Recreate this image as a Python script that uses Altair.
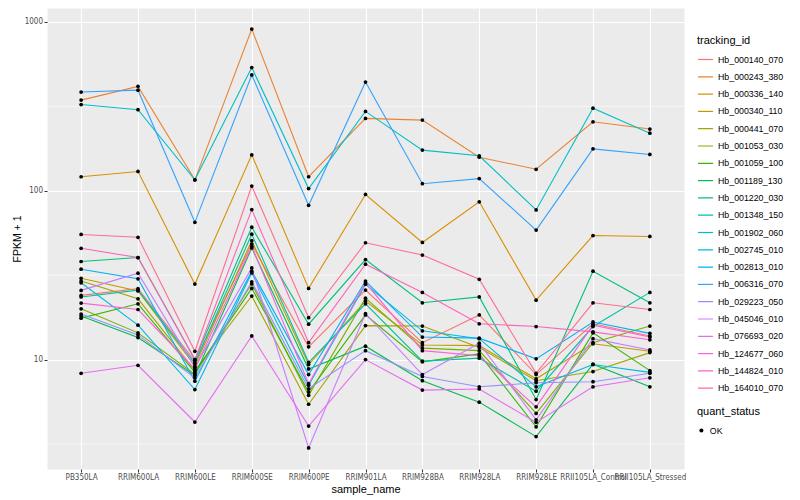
import altair as alt
import pandas as pd

samples = ["PB350LA", "RRIM600LA", "RRIM600LE", "RRIM600SE", "RRIM600PE", "RRIM901LA",
           "RRIM928BA", "RRIM928LA", "RRIM928LE", "RRII105LA_Control", "RRII105LA_Stressed"]

tracking_ids = ["Hb_000140_070", "Hb_000243_380", "Hb_000336_140", "Hb_000340_110",
                "Hb_000441_070", "Hb_001053_030", "Hb_001059_100", "Hb_001189_130",
                "Hb_001220_030", "Hb_001348_150", "Hb_001902_060", "Hb_002745_010",
                "Hb_002813_010", "Hb_006316_070", "Hb_029223_050", "Hb_045046_010",
                "Hb_076693_020", "Hb_124677_060", "Hb_144824_010", "Hb_164010_070"]

palette = ["#F8766D", "#EA8331", "#D89000", "#C09B00", "#A3A500", "#7CAE00", "#39B600",
           "#00BB4E", "#00BF7D", "#00C1A3", "#00BFC4", "#00BAE0", "#00B0F6", "#35A2FF",
           "#9590FF", "#C77CFF", "#E76BF3", "#FA62DB", "#FF62BC", "#FF6C91"]

# FPKM + 1 per sample (same order as samples)
hb_000140_070 = [24.0, 26.3, 9.8, 48.3, 11.9, 25.8, 12.6, 18.4, 8.15, 16.3, 13.8]
hb_000243_380 = [344, 415, 116, 906, 121, 268, 262, 158, 134, 256, 232]
hb_000336_140 = [121, 130, 28, 163, 26.4, 95, 49.4, 86, 22.5, 54.3, 53.6]
hb_000340_110 = [30.3, 25.5, 9.2, 50.6, 9.35, 22.2, 12.2, 12.1, 7.7, 12.4, 11.2]
hb_000441_070 = [29.2, 22.9, 8.6, 23.8, 5.44, 15.9, 15.8, 11.8, 7.5, 8.5, 11.0]
hb_001053_030 = [20.0, 14.4, 8.2, 28.1, 6.14, 23.1, 11.7, 11.3, 4.8, 12.6, 15.8]
hb_001059_100 = [17.6, 21.4, 8.4, 26.4, 6.42, 18.4, 9.7, 10.8, 4.0, 14.4, 8.6]
hb_001189_130 = [18.1, 13.5, 8.05, 45.8, 8.8, 12.0, 7.5, 5.6, 3.5, 9.4, 6.9]
hb_001220_030 = [38.1, 40.2, 10.0, 60.8, 16.2, 39.1, 21.7, 23.5, 5.8, 33.4, 21.7]
hb_001348_150 = [23.5, 25.8, 9.5, 55.3, 9.64, 21.4, 9.8, 10.2, 6.5, 15.7, 25.0]
hb_001902_060 = [324, 302, 116, 536, 103, 295, 174, 161, 77, 308, 219]
hb_002745_010 = [28.5, 16.0, 6.65, 32.6, 7.05, 27.9, 14.8, 13.3, 6.9, 9.35, 8.4]
hb_002813_010 = [34.3, 30.1, 7.45, 33.4, 8.15, 29.2, 13.6, 13.4, 10.1, 16.7, 14.3]
hb_006316_070 = [384, 394, 65, 485, 82, 440, 110, 118, 58.5, 177, 164]
hb_029223_050 = [18.6, 14.0, 7.8, 28.9, 6.72, 11.3, 7.95, 6.9, 7.3, 7.4, 8.3]
hb_045046_010 = [25.7, 32.5, 9.0, 34.9, 3.0, 18.7, 8.15, 12.5, 4.4, 13.3, 11.4]
hb_076693_020 = [8.3, 9.25, 4.27, 13.8, 4.04, 10.0, 6.6, 6.7, 4.25, 6.9, 7.8]
hb_124677_060 = [21.6, 19.8, 8.8, 46.9, 7.2, 28.5, 11.3, 10.55, 5.25, 16.0, 13.6]
hb_144824_010 = [45.6, 40.2, 10.0, 77.3, 12.6, 36.7, 25.0, 16.3, 15.7, 14.6, 13.1]
hb_164010_070 = [55.1, 53.0, 11.2, 106.6, 17.7, 49.2, 41.6, 29.9, 8.3, 21.7, 19.8]

series = [hb_000140_070, hb_000243_380, hb_000336_140, hb_000340_110, hb_000441_070,
          hb_001053_030, hb_001059_100, hb_001189_130, hb_001220_030, hb_001348_150,
          hb_001902_060, hb_002745_010, hb_002813_010, hb_006316_070, hb_029223_050,
          hb_045046_010, hb_076693_020, hb_124677_060, hb_144824_010, hb_164010_070]

major_breaks = [10, 100, 1000]
minor_breaks = [3.1623, 31.623, 316.23]

rows = []
for tid, vals in zip(tracking_ids, series):
    for s, v in zip(samples, vals):
        rows.append({"sample_name": s, "tracking_id": tid, "fpkm": v, "quant_status": "OK"})
df = pd.DataFrame(rows)

narrow = "Liberation Sans Narrow, DejaVu Sans Condensed, sans-serif"
regular = "Liberation Sans, Arial, sans-serif"

yscale = alt.Scale(type="log", domain=[2.25, 1208], nice=False, zero=False)
xscale = alt.Scale(type="point", padding=0.6)

yaxis = alt.Axis(title="FPKM + 1", values=major_breaks, format="d",
                 labelFont=narrow, labelFontSize=8, labelColor="#4D4D4D",
                 tickColor="#333333", tickSize=3, labelPadding=1.5,
                 titleFont=regular, titleFontSize=10.5, titleFontWeight="normal",
                 titleColor="black", titlePadding=2, domain=False,
                 grid=True, gridColor="white", gridWidth=1.1)

minor = alt.Chart(pd.DataFrame({"v": minor_breaks})).mark_rule(
    color="white", strokeWidth=0.6
).encode(y=alt.Y("v:Q", scale=yscale, axis=yaxis))

base = alt.Chart(df).encode(
    x=alt.X("sample_name:N", sort=samples, scale=xscale,
            axis=alt.Axis(title="sample_name", labelAngle=0, labelOverlap=False,
                          labelFont=narrow, labelFontSize=8, labelColor="#4D4D4D",
                          tickColor="#333333", tickSize=3, labelPadding=1,
                          titleFont=regular, titleFontSize=11, titleFontWeight="normal",
                          titleColor="black", titlePadding=2, domain=False,
                          grid=True, gridColor="white", gridWidth=1.1)),
    y=alt.Y("fpkm:Q", scale=yscale, axis=yaxis),
)

lines = base.mark_line(strokeWidth=1.1).encode(
    color=alt.Color("tracking_id:N", scale=alt.Scale(domain=tracking_ids, range=palette),
                    legend=alt.Legend(title="tracking_id", orient="none", legendX=650,
                                      legendY=27, symbolType="stroke", symbolSize=225,
                                      symbolStrokeWidth=1.2, clipHeight=15, rowPadding=2.3,
                                      labelFont=regular, labelFontSize=8.8,
                                      labelColor="black", titleFont=regular,
                                      titleFontSize=11, titleFontWeight="normal",
                                      titleColor="black", titlePadding=6, labelOffset=4,
                                      padding=0)),
    detail="tracking_id:N",
)

points = base.mark_point(filled=True, size=14, opacity=1, color="black").encode(
    shape=alt.Shape("quant_status:N", scale=alt.Scale(range=["circle"]),
                    legend=alt.Legend(title="quant_status", orient="none", legendX=650,
                                      legendY=398, symbolSize=16, symbolFillColor="black",
                                      clipHeight=15, labelFont=regular, labelFontSize=8.8,
                                      labelColor="black", titleFont=regular,
                                      titleFontSize=11, titleFontWeight="normal",
                                      titleColor="black", titlePadding=6, labelOffset=4,
                                      padding=0)),
)

chart = alt.layer(minor, lines, points).properties(
    width=637, height=461,
    autosize=alt.AutoSizeParams(type="none"),
    padding={"left": 39, "top": 0, "right": 100, "bottom": 28},
    background="white",
).configure_view(fill="#EBEBEB", stroke="transparent")

chart.save("out.html", embed_options={"renderer": "svg", "actions": False})
